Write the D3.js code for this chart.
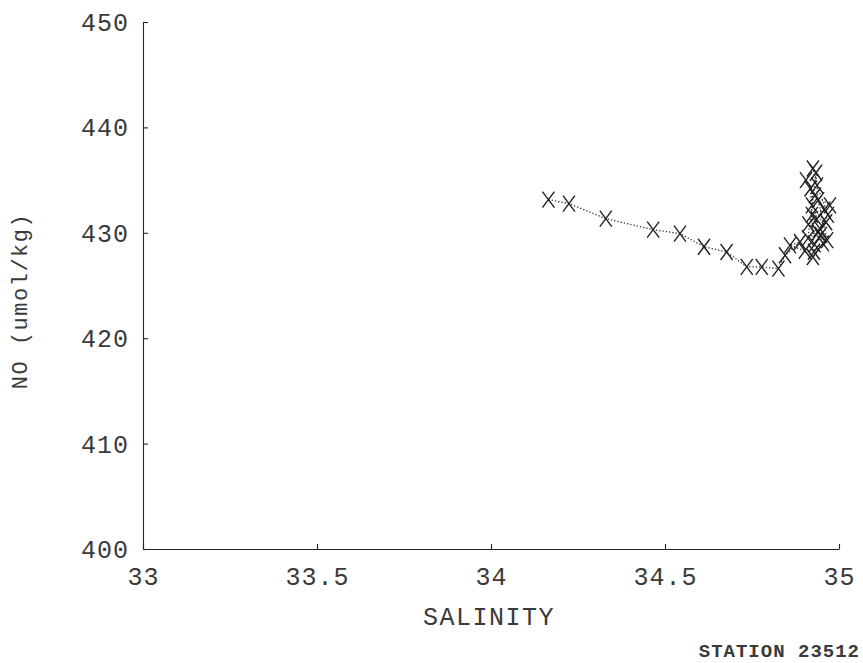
<!DOCTYPE html>
<html>
<head>
<meta charset="utf-8">
<script src="https://cdn.jsdelivr.net/npm/d3@7"></script>
<style>
  body { margin: 0; background: #fff; }
  text { font-family: "Liberation Mono", "DejaVu Sans Mono", monospace; fill: #3a3a3a; }
</style>
</head>
<body>
<div id="chart"></div>
<script>
// Dimensions
const width = 863;
const height = 663;
const margin = { top: 22, right: 24, bottom: 114, left: 143 };

// Data: station profile, salinity vs NO
const salinity = [
  34.165, 34.224, 34.330, 34.466, 34.543, 34.612, 34.677, 34.735, 34.778, 34.826,
  34.845, 34.888, 34.859, 34.902, 34.925, 34.954, 34.940, 34.963, 34.922, 34.974,
  34.931, 34.905, 34.925, 34.937, 34.968, 34.945, 34.911, 34.922, 34.934, 34.940,
  34.966, 34.928, 34.918, 34.936, 34.958, 34.912, 34.948, 34.930
];
const no = [
  433.15, 432.77, 431.35, 430.30, 429.92, 428.68, 428.18, 426.76, 426.76, 426.60,
  427.87, 429.13, 428.8, 428.3, 427.7, 429.0, 430.05, 431.0, 431.7, 432.6,
  433.55, 435.0, 436.1, 434.5, 431.7, 430.4, 429.5, 432.6, 435.7, 433.1,
  429.3, 428.2, 434.2, 431.3, 432.2, 430.8, 429.8, 428.9
];
const xTicks = [33, 33.5, 34, 34.5, 35];
const yTicks = [400, 410, 420, 430, 440, 450];

const points = salinity.map((s, i) => ({ s: s, n: no[i] }));

const svg = d3
  .select("#chart")
  .append("svg")
  .attr("width", width)
  .attr("height", height);

const x = d3
  .scaleLinear()
  .domain([33, 35])
  .range([margin.left, width - margin.right]);

const y = d3
  .scaleLinear()
  .domain([400, 450])
  .range([height - margin.bottom, margin.top]);

// Axes (ticks point inward)
const xAxis = svg
  .append("g")
  .attr("transform", `translate(0,${height - margin.bottom})`)
  .call(d3.axisBottom(x).tickValues(xTicks).tickSizeInner(-5).tickSizeOuter(0).tickFormat(d3.format("")));

const yAxis = svg
  .append("g")
  .attr("transform", `translate(${margin.left},0)`)
  .call(d3.axisLeft(y).tickValues(yTicks).tickSizeInner(-5).tickSizeOuter(0).tickFormat(d3.format("d")));

[xAxis, yAxis].forEach(g => {
  g.select(".domain").attr("stroke", "#222").attr("stroke-width", 1.1);
  g.selectAll(".tick line").attr("stroke", "#222").attr("stroke-width", 1.1);
  g.selectAll(".tick text")
    .attr("fill", "#3a3a3a")
    .attr("font-family", "Liberation Mono, DejaVu Sans Mono, monospace")
    .attr("font-size", "25px")
    .style("letter-spacing", "1px");
});

xAxis.selectAll(".tick text").attr("y", 36).attr("dy", "0");
yAxis.selectAll(".tick text").attr("x", -14).attr("dy", "0.34em");

// Dotted connecting line
const line = d3
  .line()
  .x(d => x(d.s))
  .y(d => y(d.n));

svg
  .append("path")
  .datum(points)
  .attr("fill", "none")
  .attr("stroke", "#333")
  .attr("stroke-width", 1.3)
  .attr("stroke-dasharray", "1.3,2")
  .attr("d", line);

// X markers
svg
  .append("g")
  .selectAll("path")
  .data(points)
  .join("path")
  .attr("transform", d => `translate(${x(d.s)},${y(d.n)})`)
  .attr("d", "M-6,-8L6,8M-6,8L6,-8")
  .attr("fill", "none")
  .attr("stroke", "#222")
  .attr("stroke-width", 1.4);

// Axis labels
svg
  .append("text")
  .attr("x", 489)
  .attr("y", 625)
  .attr("text-anchor", "middle")
  .attr("font-size", "25px")
  .style("letter-spacing", "1.5px")
  .text("SALINITY");

svg
  .append("text")
  .attr("transform", "rotate(-90)")
  .attr("x", -301)
  .attr("y", 27)
  .attr("text-anchor", "middle")
  .attr("font-size", "22px")
  .style("letter-spacing", "1.5px")
  .text("NO (umol/kg)");

svg
  .append("text")
  .attr("x", 860)
  .attr("y", 657)
  .attr("text-anchor", "end")
  .attr("font-size", "19px")
  .attr("font-weight", "bold")
  .style("letter-spacing", "1px")
  .text("STATION  23512");
</script>
</body>
</html>
